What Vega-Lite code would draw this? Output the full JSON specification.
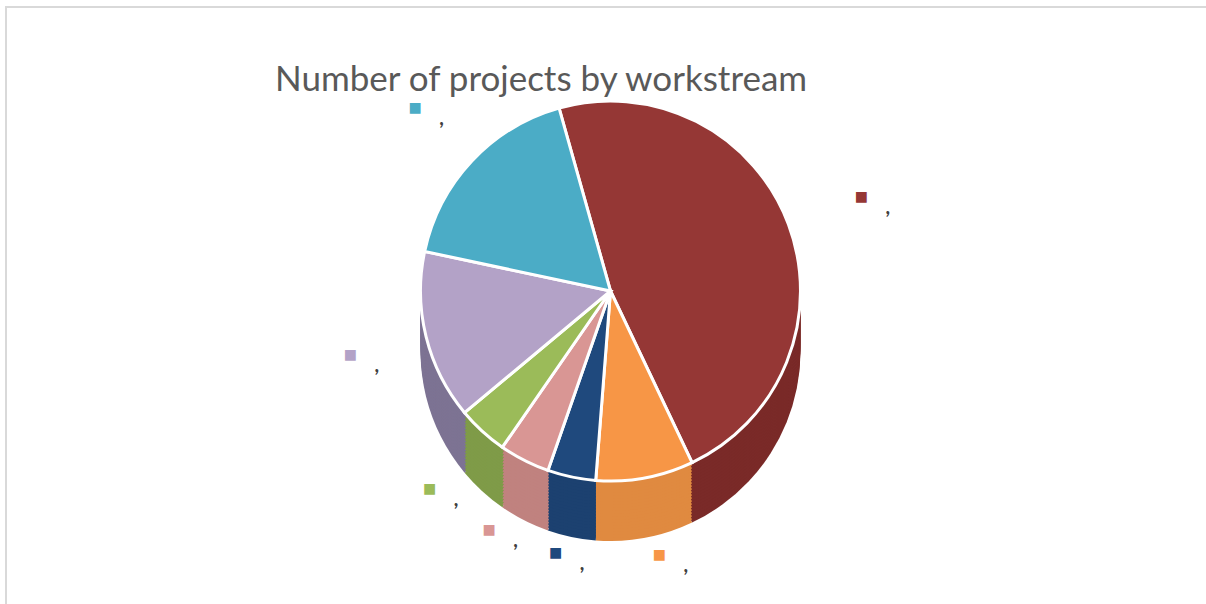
{
  "$schema": "https://vega.github.io/schema/vega-lite/v6.json",
  "width": 1206,
  "height": 604,
  "autosize": {"type": "fit", "contains": "padding"},
  "padding": {"left": 5, "top": 6, "right": -10, "bottom": -10},
  "background": "white",
  "title": {
    "text": "Number of projects by workstream",
    "anchor": "start",
    "frame": "group",
    "dx": 270,
    "offset": -92,
    "font": "Lato",
    "fontSize": 35,
    "fontWeight": "normal",
    "color": "#595959"
  },
  "data": {
    "values": [
      {"ws": "Workstream 1", "value": 47.3},
      {"ws": "Workstream 2", "value": 8.3},
      {"ws": "Workstream 3", "value": 4.1},
      {"ws": "Workstream 4", "value": 4.3},
      {"ws": "Workstream 5", "value": 4.3},
      {"ws": "Workstream 6", "value": 14.4},
      {"ws": "Workstream 7", "value": 17.3}
    ]
  },
  "encoding": {
    "theta": {"field": "value", "type": "quantitative", "stack": true, "scale": {"range": [-0.274, 6.0092]}},
    "order": {"field": "ws", "type": "ordinal"}
  },
  "layer": [
    {"mark": {"type": "arc", "radius": 190, "yOffset": 41}, "encoding": {"fill": {"field": "ws", "type": "nominal", "legend": null, "scale": {"range": ["#7a2a28", "#e08a40", "#1c4170", "#c0827f", "#7f9b48", "#7d7393", "#3d8ea3"]}}}},
    {"mark": {"type": "arc", "radius": 190, "yOffset": 38}, "encoding": {"fill": {"field": "ws", "type": "nominal", "legend": null}}},
    {"mark": {"type": "arc", "radius": 190, "yOffset": 35}, "encoding": {"fill": {"field": "ws", "type": "nominal", "legend": null}}},
    {"mark": {"type": "arc", "radius": 190, "yOffset": 32}, "encoding": {"fill": {"field": "ws", "type": "nominal", "legend": null}}},
    {"mark": {"type": "arc", "radius": 190, "yOffset": 29}, "encoding": {"fill": {"field": "ws", "type": "nominal", "legend": null}}},
    {"mark": {"type": "arc", "radius": 190, "yOffset": 26}, "encoding": {"fill": {"field": "ws", "type": "nominal", "legend": null}}},
    {"mark": {"type": "arc", "radius": 190, "yOffset": 23}, "encoding": {"fill": {"field": "ws", "type": "nominal", "legend": null}}},
    {"mark": {"type": "arc", "radius": 190, "yOffset": 20}, "encoding": {"fill": {"field": "ws", "type": "nominal", "legend": null}}},
    {"mark": {"type": "arc", "radius": 190, "yOffset": 17}, "encoding": {"fill": {"field": "ws", "type": "nominal", "legend": null}}},
    {"mark": {"type": "arc", "radius": 190, "yOffset": 14}, "encoding": {"fill": {"field": "ws", "type": "nominal", "legend": null}}},
    {"mark": {"type": "arc", "radius": 190, "yOffset": 11}, "encoding": {"fill": {"field": "ws", "type": "nominal", "legend": null}}},
    {"mark": {"type": "arc", "radius": 190, "yOffset": 8}, "encoding": {"fill": {"field": "ws", "type": "nominal", "legend": null}}},
    {"mark": {"type": "arc", "radius": 190, "yOffset": 5}, "encoding": {"fill": {"field": "ws", "type": "nominal", "legend": null}}},
    {"mark": {"type": "arc", "radius": 190, "yOffset": 2}, "encoding": {"fill": {"field": "ws", "type": "nominal", "legend": null}}},
    {"mark": {"type": "arc", "radius": 190, "yOffset": -1}, "encoding": {"fill": {"field": "ws", "type": "nominal", "legend": null}}},
    {"mark": {"type": "arc", "radius": 190, "yOffset": -4}, "encoding": {"fill": {"field": "ws", "type": "nominal", "legend": null}}},
    {"mark": {"type": "arc", "radius": 190, "yOffset": -7}, "encoding": {"fill": {"field": "ws", "type": "nominal", "legend": null}}},
    {"mark": {"type": "arc", "radius": 190, "yOffset": -10}, "encoding": {"fill": {"field": "ws", "type": "nominal", "legend": null}}},
    {"mark": {"type": "arc", "radius": 190, "yOffset": -13}, "encoding": {"fill": {"field": "ws", "type": "nominal", "legend": null}}},
    {"mark": {"type": "arc", "radius": 190, "yOffset": -16}, "encoding": {"fill": {"field": "ws", "type": "nominal", "legend": null}}},
    {"mark": {"type": "arc", "radius": 190, "yOffset": -19, "stroke": "white", "strokeWidth": 3}, "encoding": {"color": {"field": "ws", "type": "nominal", "legend": null, "scale": {"range": ["#953735", "#f79646", "#1f497d", "#d99694", "#9bbb59", "#b3a2c7", "#4bacc6"]}}}},
    {"mark": {"type": "text", "radius": 268, "yOffset": -19, "text": "■", "fontSize": 14, "font": "DejaVu Sans"}, "encoding": {"color": {"field": "ws", "type": "nominal", "legend": null}}},
    {"mark": {"type": "text", "radius": 268, "yOffset": -8, "dx": 27, "text": ",", "fontSize": 20, "font": "Lato", "fontStyle": "italic", "fontWeight": "bold", "color": "#404040"}},
    {"mark": {"type": "rect", "fill": null, "stroke": "#d9d9d9", "strokeWidth": 4, "clip": true}, "encoding": {"theta": null, "order": null}}
  ]
}
